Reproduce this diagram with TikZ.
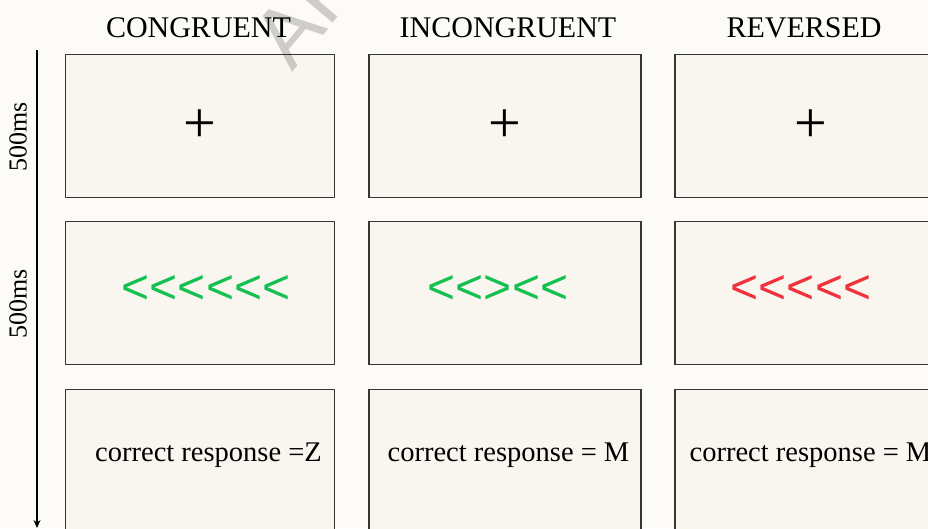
\documentclass[tikz,border=0pt]{standalone}
\usepackage{fontspec}
\usetikzlibrary{arrows.meta}
\setmainfont{Liberation Serif}
\newfontfamily\chevfont[Ligatures=TeXOff]{Liberation Sans}
\newfontfamily\wmfont{Liberation Sans}
\definecolor{paper}{HTML}{FCFBF8}
\definecolor{screen}{HTML}{F9F6F0}
\definecolor{frame}{HTML}{363636}
\definecolor{flankgreen}{HTML}{14C050}
\definecolor{flankred}{HTML}{F0323C}

\begin{document}
\begin{tikzpicture}[x=1pt,y=-1pt,
        screenbox/.style={rectangle,draw=frame,fill=screen,line width=1.3pt,
                minimum height=143pt,inner sep=0pt},
        header/.style={anchor=base,font=\fontsize{30}{30}\selectfont},
        fixcross/.style={font=\fontsize{58}{58}\selectfont,inner sep=0pt},
        flanker/.style={font=\chevfont\fontsize{48}{48}\selectfont,inner sep=0pt},
        answer/.style={anchor=base,font=\fontsize{28.5}{28.5}\selectfont,inner sep=0pt},
        duration/.style={rotate=90,font=\fontsize{26}{26}\selectfont,inner sep=0pt},
        wmark/.style={font=\wmfont\fontsize{85}{85}\selectfont,text=black,
                opacity=0.18,rotate=50},
    ]

    \useasboundingbox (0,0) rectangle (928,528);
    \clip (0,0) rectangle (928,528);
    \fill[paper] (0,0) rectangle (928,528);

    % Timeline
    \coordinate (tstart) at (37,50);
    \coordinate (tend) at (37,528);
    \draw[-{Stealth[length=8pt,width=7pt]},line width=1.2pt] (tstart) -- (tend);
    \node[duration] (dur1) at (18,137) {500ms};
    \node[duration] (dur2) at (18,304) {500ms};

    % Screens: fixation, flankers, response
    \foreach \col/\x/\w in {C/200/269,I/505/272,R/811/272} {
            \node[screenbox,minimum width=\w pt] (fix\col) at (\x,126) {};
            \node[screenbox,minimum width=\w pt] (flank\col) at (\x,293) {};
            \node[screenbox,minimum width=\w pt] (resp\col) at (\x,461) {};
        }

    % Conditions
    \node[header] (hC) at (198.5,37.5) {CONGRUENT};
    \node[header] (hI) at (508,37.5) {INCONGRUENT};
    \node[header] (hR) at (804,37.5) {REVERSED};

    % Fixation crosses
    \foreach \col in {C,I,R} {
            \node[fixcross] at (fix\col) {+};
        }

    % Flanker arrays
    \node[flanker,text=flankgreen] (arrC) at (206,290) {<<<<<<};
    \node[flanker,text=flankgreen] (arrI) at (498,290) {<<><<};
    \node[flanker,text=flankred] (arrR) at (801,290) {<<<<<};

    % Responses
    \node[answer] (ansC) at (208.5,461.5) {correct response =Z};
    \node[answer] (ansI) at (508.5,461.5) {correct response = M};
    \node[answer] (ansR) at (810.5,461.5) {correct response = M};

    % Watermark
    \node[wmark] at (308,8) {AR};

\end{tikzpicture}
\end{document}
